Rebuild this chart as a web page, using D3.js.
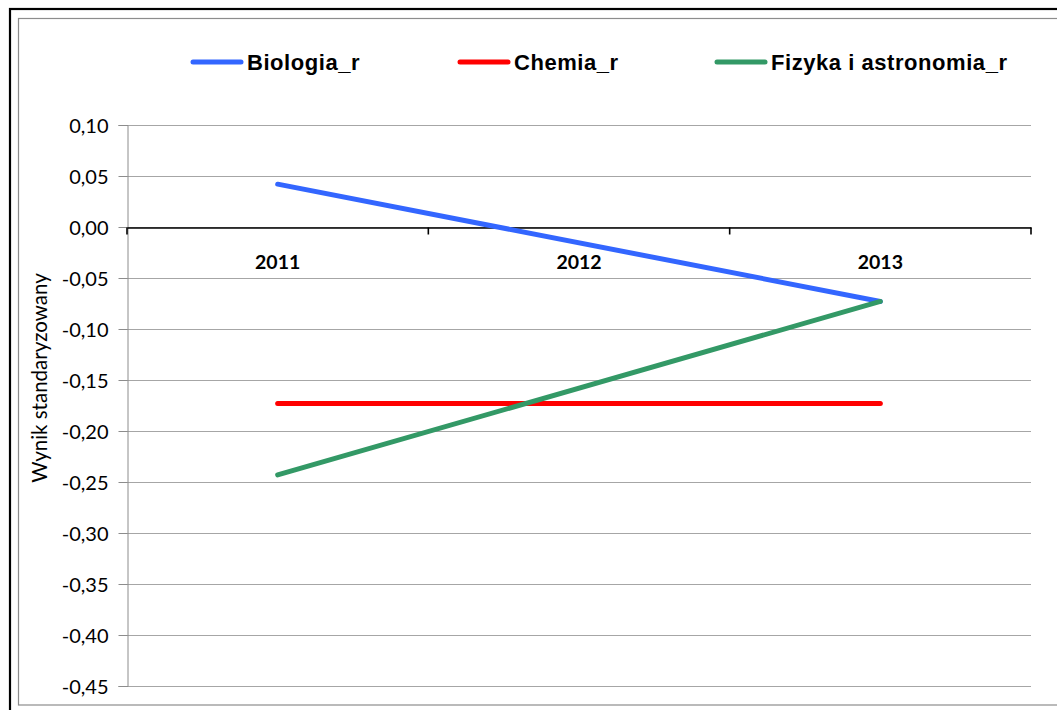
<!DOCTYPE html>
<html>
<head>
<meta charset="utf-8">
<script src="https://cdn.jsdelivr.net/npm/d3@7"></script>
<style>
  html, body { margin: 0; padding: 0; background: #fff; }
  svg { display: block; }
</style>
</head>
<body>
<svg id="chart" width="1057" height="710"></svg>
<script>
// ---- data ----
const categories = ["2011", "2012", "2013"];
const seriesNames = ["Biologia_r", "Chemia_r", "Fizyka i astronomia_r"];
const biologiaValues = [0.042, null, -0.073];
const chemiaValues = [-0.173, null, -0.173];
const fizykaValues = [-0.243, null, -0.073];
const yTickValues = [0.10, 0.05, 0.00, -0.05, -0.10, -0.15, -0.20, -0.25, -0.30, -0.35, -0.40, -0.45];
const yAxisTitle = "Wynik standaryzowany";

const seriesColors = ["#3366ff", "#ff0000", "#339966"];
const seriesValues = [biologiaValues, chemiaValues, fizykaValues];

// ---- layout ----
const svg = d3.select("#chart");
const plot = { left: 127, top: 125, right: 1031, bottom: 686 };

// frame
svg.append("rect").attr("x", 10).attr("y", 9).attr("width", 1100).attr("height", 760)
  .attr("fill", "none").attr("stroke", "#000").attr("stroke-width", 2.2);
svg.append("rect").attr("x", 18.5).attr("y", 18.5).attr("width", 1100).attr("height", 686.5)
  .attr("fill", "none").attr("stroke", "#8c8c8c").attr("stroke-width", 1.2);

const x = d3.scaleBand().domain(categories).range([plot.left, plot.right]).padding(0);
const y = d3.scaleLinear().domain([-0.45, 0.10]).range([plot.bottom, plot.top]);

const locale = d3.formatLocale({ decimal: ",", thousands: " ", grouping: [3], currency: ["", ""], minus: "-" });
const fmt = locale.format(".2f");

// gridlines
svg.append("g").selectAll("line").data(yTickValues).join("line")
  .attr("x1", plot.left).attr("x2", plot.right)
  .attr("y1", d => Math.round(y(d)) + 0.5).attr("y2", d => Math.round(y(d)) + 0.5)
  .attr("stroke", "#a6a6a6").attr("stroke-width", 1);

// y axis
const yAxis = d3.axisLeft(y).tickValues(yTickValues).tickFormat(fmt).tickSize(9).tickPadding(10);
const gy = svg.append("g").attr("transform", `translate(${plot.left + 0.5},0)`).call(yAxis);
gy.select(".domain").attr("stroke", "#8c8c8c");
gy.selectAll(".tick line").attr("stroke", "#8c8c8c");
gy.selectAll(".tick text").attr("font-family", "Lato, 'Open Sans', sans-serif")
  .attr("font-size", 20).attr("fill", "#000").attr("dy", "0.36em");

// x axis at zero
const xAxis = d3.axisBottom(x).tickSize(0).tickFormat("");
const gx = svg.append("g").attr("transform", `translate(0,${Math.round(y(0)) + 0.5})`).call(xAxis);
gx.select(".domain").attr("stroke", "#000").attr("stroke-width", 1.6);
gx.selectAll(".tick").remove();
// category boundary ticks
const boundaries = categories.map(c => x(c)).concat([x(categories[categories.length - 1]) + x.bandwidth()]);
gx.selectAll("line.bt").data(boundaries).join("line").attr("class", "bt")
  .attr("x1", d => d).attr("x2", d => d).attr("y1", 0).attr("y2", 7)
  .attr("stroke", "#000").attr("stroke-width", 1.6);
// category labels
svg.append("g").selectAll("text").data(categories).join("text")
  .attr("x", d => x(d) + x.bandwidth() / 2)
  .attr("y", Math.round(y(0)) + 42)
  .attr("text-anchor", "middle")
  .attr("font-family", "Lato, 'Open Sans', sans-serif")
  .attr("font-weight", "bold").attr("font-size", 19.5).attr("fill", "#000")
  .text(d => d);

// y axis title
svg.append("text")
  .attr("transform", "translate(47,378) rotate(-90)")
  .attr("text-anchor", "middle")
  .attr("font-family", "Lato, 'Open Sans', sans-serif")
  .attr("font-size", 20.5).attr("fill", "#000")
  .text(yAxisTitle);

// lines
const line = d3.line()
  .x(d => x(d.cat) + x.bandwidth() / 2)
  .y(d => y(d.v));
seriesValues.forEach((vals, i) => {
  const pts = categories.map((c, j) => ({ cat: c, v: vals[j] })).filter(d => d.v !== null);
  svg.append("path").datum(pts)
    .attr("d", line)
    .attr("fill", "none")
    .attr("stroke", seriesColors[i])
    .attr("stroke-width", 5)
    .attr("stroke-linecap", "round")
    .attr("stroke-linejoin", "round");
});

// legend
const legendX = [193, 460, 717];
const legendY = 62;
const lg = svg.append("g");
seriesNames.forEach((name, i) => {
  lg.append("line")
    .attr("x1", legendX[i]).attr("x2", legendX[i] + 48)
    .attr("y1", legendY).attr("y2", legendY)
    .attr("stroke", seriesColors[i]).attr("stroke-width", 5).attr("stroke-linecap", "round");
  lg.append("text")
    .attr("x", legendX[i] + 54).attr("y", legendY + 7.5)
    .attr("font-family", "'Liberation Sans', Arial, sans-serif")
    .attr("font-weight", "bold").attr("font-size", 22).attr("letter-spacing", 0.55)
    .attr("fill", "#000")
    .text(name);
});
</script>
</body>
</html>
